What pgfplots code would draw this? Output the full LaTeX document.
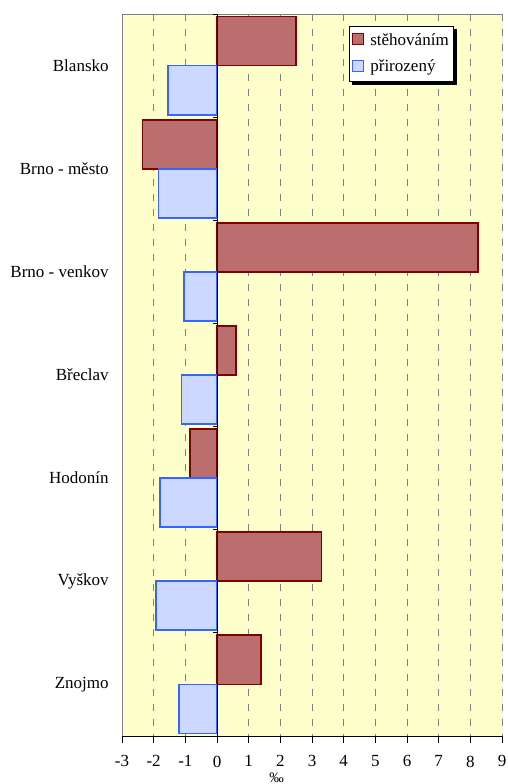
\documentclass[border=0pt]{standalone}
\usepackage{fontspec}
\setmainfont{Liberation Serif}
\usepackage{pgfplots}
\pgfplotsset{compat=1.18}
\definecolor{bg}{RGB}{255,255,204}
\definecolor{redfill}{RGB}{186,110,110}
\definecolor{rededge}{RGB}{128,0,0}
\definecolor{bluefill}{RGB}{204,216,255}
\definecolor{blueedge}{RGB}{51,102,255}
\newcommand{\cf}{\fontsize{17}{20}\selectfont}
\begin{document}
\cf
\begin{tikzpicture}
\useasboundingbox (0,0) rectangle (507pt,784pt);
\begin{axis}[
  at={(122pt,48pt)}, anchor=south west,
  scale only axis, width=380pt, height=722pt,
  xmin=-3, xmax=9, ymin=-0.5, ymax=6.5, y dir=reverse,
  xtick={-3,...,9}, ytick={0,...,6},
  yticklabels={Blansko, Brno - město, Brno - venkov, Břeclav, Hodonín, Vyškov, Znojmo},
  axis line style={draw=none},
  axis background/.style={fill=bg},
  xtick pos=bottom, tick align=outside, major tick length=7pt,
  ytick style={draw=none},
  xtick style={black, line width=1pt},
  xmajorgrids, grid style={gray, line width=1pt, dash pattern=on 7pt off 8pt},
  every tick label/.append style={font=\cf},
  xticklabel style={inner ysep=0pt, yshift=-12.5pt},
  yticklabel style={xshift=-0.5pt},
  /pgf/number format/assume math mode=true,
  legend style={name=leg, at={(axis description cs:0.597,0.983)}, anchor=north west,
    draw=black, fill=white, line width=0.6pt,
    font=\cf, row sep=8pt, inner xsep=3pt, inner ysep=5pt},
  legend cell align=left,
]
\addplot[xbar, bar width=0.476, bar shift=-0.238, fill=redfill, draw=rededge, line width=1.8pt,
  legend image code/.code={\draw[fill=redfill, draw=rededge, line width=1.2pt] (0pt,-4pt) rectangle (11pt,7pt);}]
  coordinates {(2.5,0) (-2.35,1) (8.25,2) (0.6,3) (-0.86,4) (3.3,5) (1.4,6)};
\addlegendentry{\hspace{4pt}stěhováním\hspace{2pt}}
\addplot[xbar, bar width=0.476, bar shift=0.238, fill=bluefill, draw=blueedge, line width=1.8pt,
  legend image code/.code={\draw[fill=bluefill, draw=blueedge, line width=1.2pt] (0pt,-4pt) rectangle (11pt,7pt);}]
  coordinates {(-1.54,0) (-1.85,1) (-1.04,2) (-1.12,3) (-1.81,4) (-1.92,5) (-1.19,6)};
\addlegendentry{\hspace{4pt}přirozený}
\draw[gray, line width=1pt] (axis description cs:0,0) -- (axis description cs:0,1) -- (axis description cs:1,1) -- (axis description cs:1,0);
\draw[black, line width=1pt] (axis description cs:0,0) -- (axis description cs:1,0);
\draw[black, line width=1pt] (axis cs:0,-0.5) -- (axis cs:0,6.5);
\pgfplotsinvokeforeach{-0.5,0.5,1.5,2.5,3.5,4.5,5.5}{\draw[black, line width=1pt] (axis cs:0,#1) -- (axis cs:-0.13,#1);}
\end{axis}
\fill[black] ([yshift=-3pt]leg.north east) rectangle ([xshift=3pt,yshift=-3pt]leg.south east);
\fill[black] ([xshift=3pt]leg.south west) rectangle ([xshift=3pt,yshift=-3pt]leg.south east);
\node[anchor=base, inner sep=0pt, font=\fontsize{14.5}{17}\selectfont] at (276.5pt,1.5pt) {‰};
\end{tikzpicture}
\end{document}
